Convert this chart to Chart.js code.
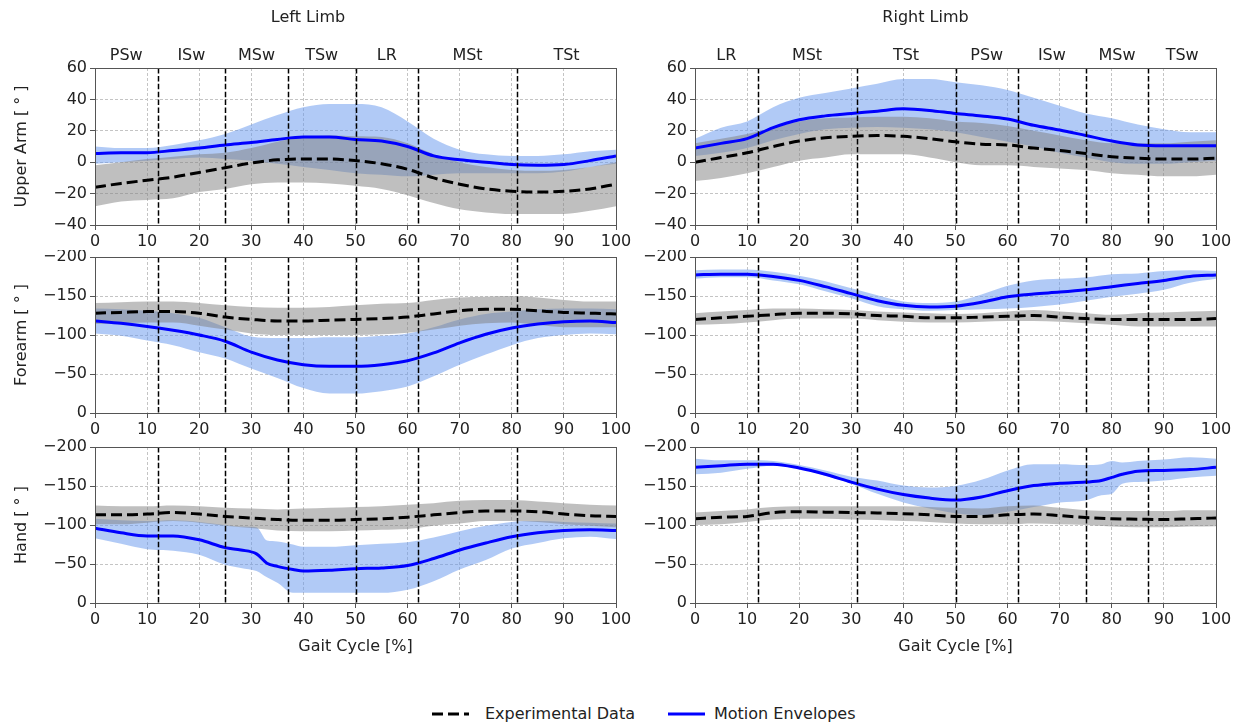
<!DOCTYPE html>
<html>
<head>
<meta charset="utf-8">
<script src="https://cdn.jsdelivr.net/npm/chart.js@4.4.0/dist/chart.umd.min.js"></script>
<style>
  body { margin: 0; background: #fff; width: 1238px; height: 723px; position: relative; overflow: hidden;
         font-family: "DejaVu Sans", sans-serif; color: #222; }
  .panel { position: absolute; }
  .leg { position: absolute; font-size: 16px; line-height: 20px; white-space: nowrap; }
</style>
</head>
<body>
<div class="panel" id="p0"><canvas id="c0"></canvas></div>
<div class="panel" id="p1"><canvas id="c1"></canvas></div>
<div class="panel" id="p2"><canvas id="c2"></canvas></div>
<div class="panel" id="p3"><canvas id="c3"></canvas></div>
<div class="panel" id="p4"><canvas id="c4"></canvas></div>
<div class="panel" id="p5"><canvas id="c5"></canvas></div>

<svg class="leg" style="left:432px;top:704px" width="40" height="20"><line x1="0" y1="10" x2="37" y2="10" stroke="#000" stroke-width="3" stroke-dasharray="11 5"/></svg>
<div class="leg" style="left:485px;top:704px">Experimental Data</div>
<svg class="leg" style="left:668px;top:704px" width="40" height="20"><line x1="0" y1="10" x2="37" y2="10" stroke="#0000ff" stroke-width="3"/></svg>
<div class="leg" style="left:714px;top:704px">Motion Envelopes</div>

<script>
// gait cycle samples (%)
const X = [0,5,10,15,20,25,30,35,40,45,50,55,60,65,70,75,80,85,90,95,100];

// phase boundaries and names
const leftBounds = [12,25,37,50,62,81];
const leftPhases = ['PSw','ISw','MSw','TSw','LR','MSt','TSt'];
const rightBounds = [12,31,50,62,75,87];
const rightPhases = ['LR','MSt','TSt','PSw','ISw','MSw','TSw'];

// Left upper arm
const luExpMean = [-16,-13.5,-11.5,-9.5,-6.5,-3.5,-0.5,1.5,2,2,1,-1,-4.5,-10,-14,-17,-18.5,-19,-18.5,-17,-14];
const luExpHi   = [-2,0,2,3.5,5,6,9,13,16,17,16.5,16,12,5,0,-3,-5,-5.5,-5,-3,0];
const luExpLo   = [-28,-25,-24,-23,-19,-17,-14,-13,-13,-13.5,-15,-17,-21,-26,-30,-32,-33,-33,-33,-31,-28];
const luEnvMean = [5.5,6,6,7.5,9,11,12.5,14.5,16,16,14.5,13.5,10,4,1.5,0,-1.5,-2,-1.5,1,4];
const luEnvHi   = [10,9,9,11,14,18,24,30,35,37,37,35,26,15,8,5,4,4,5,7,8];
const luEnvLo   = [-1,0,1,2,3,2,1,-1,-3,-5,-7,-8,-9,-8,-7,-7,-7,-7,-6,-3,-1];

// Right upper arm
const ruExpMean = [0,3,6,10,13.5,15.5,16.5,17,16.5,15,13,11.5,11,9,7.5,5.5,3.5,2.5,2,2,2.5];
const ruExpHi   = [12,15,18,22,26,28,28.5,29,29,28,26,25,23,20,17,14,12,12,12,13,14];
const ruExpLo   = [-12,-10,-7,-3,1,3,5,5,5,3,0,-2,-2,-3,-4,-5,-7,-8,-9,-9,-8];
const ruEnvMean = [9,12,15,22,27,29.5,31,32.5,34,33,31,29.5,27.5,23.5,20.5,17,13.5,11,10.5,10.5,10.5];
const ruEnvHi   = [15,22,26,35,41,44,47,50,53,53,51,49,46,41,36,31,28,24,21,19,19];
const ruEnvLo   = [4,6,9,14,18,21,22,22.5,22,21,19,16,13,10,6,3,0,-1,-1,0,1];

// Left forearm
const lfExpMean = [-128,-129,-130,-130,-128,-123,-120,-118,-118,-119,-120,-121,-123,-127,-131,-133,-133,-131,-129,-128,-127];
const lfExpHi   = [-141,-142,-143,-143,-141,-138,-136,-135,-135,-136,-138,-140,-141,-145,-148,-149,-150,-148,-145,-143,-143];
const lfExpLo   = [-114,-115,-116,-116,-112,-107,-102,-100,-100,-100,-100,-101,-103,-107,-112,-115,-116,-113,-110,-110,-110];
const lfEnvMean = [-118,-115,-111,-106,-100,-92,-78,-68,-62,-60,-60,-62,-67,-77,-90,-101,-109,-114,-117,-118,-116];
const lfEnvHi   = [-134,-133,-131,-128,-122,-110,-98,-96,-96,-97,-97,-99,-102,-110,-120,-127,-130,-133,-134,-134,-133];
const lfEnvLo   = [-102,-99,-93,-87,-78,-70,-57,-45,-32,-25,-25,-28,-34,-47,-62,-75,-87,-96,-100,-102,-101];

// Right forearm
const rfExpMean = [-120,-122,-124,-126,-128,-128,-127,-125,-124,-122,-122,-123,-124,-125,-123,-121,-120,-120,-120,-120,-121];
const rfExpHi   = [-128,-130,-132,-134,-134,-133,-132,-130,-129,-128,-127,-128,-130,-132,-130,-128,-126,-128,-129,-130,-131];
const rfExpLo   = [-113,-114,-116,-119,-121,-121,-121,-119,-117,-116,-116,-117,-118,-118,-117,-115,-113,-111,-111,-111,-111];
const rfEnvMean = [-177,-178,-178,-175,-170,-162,-153,-144,-138,-136,-137,-142,-149,-152.5,-155,-158,-162,-166,-170,-175,-177];
const rfEnvHi   = [-183,-184,-184,-181,-176,-169,-160,-151,-143,-141,-143,-152,-163,-170,-172,-174,-178,-179,-182,-183,-182];
const rfEnvLo   = [-172,-174,-174,-170,-165,-156,-147,-137,-133,-131,-132,-133,-134,-136,-139,-144,-149,-153,-158,-167,-172];

// Left hand
const lhExpMean = [-113,-113,-114,-116,-114,-111,-109,-107,-106,-106,-107,-108,-110,-113,-116,-118,-118,-117,-114,-112,-111];
const lhExpHi   = [-125,-124,-124,-125,-124,-122,-121,-120,-121,-122,-123,-124,-126,-128,-131,-132,-132,-130,-128,-126,-125];
const lhExpLo   = [-101,-101,-103,-105,-103,-99,-96,-93,-92,-92,-93,-94,-95,-99,-102,-105,-105,-104,-101,-99,-97];
const lhEnvX    = [0,5,10,15,20,25,28,31,33,35,38,40,45,50,55,60,65,70,75,80,85,90,95,100];
const lhEnvMean = [-96,-90,-86,-86,-81,-71,-68,-63,-51,-47,-43,-41,-42,-44,-45,-48,-57,-68,-77,-85,-90,-93,-94,-93];
const lhEnvHi   = [-108,-106,-105,-106,-104,-100,-98,-97,-80,-79,-75,-72,-72,-74,-76,-78,-84,-92,-99,-104,-105,-104,-103,-102];
const lhEnvLo   = [-83,-76,-69,-67,-62,-49,-45,-41,-33,-26,-13,-13,-13,-13,-13,-17,-28,-43,-55,-70,-77,-83,-85,-82];

// Right hand
const rhExpMean = [-108,-110,-111,-116,-117,-116.5,-116,-115.5,-114.5,-113,-111,-111,-113,-114,-112,-109.5,-108,-107.5,-107,-108,-109];
const rhExpHi   = [-116,-118,-120,-123,-124,-124,-124,-124,-124,-123,-122,-121,-124,-125,-122,-119,-118,-118,-118,-119,-119];
const rhExpLo   = [-100,-101,-104,-107,-108,-108,-107,-106.5,-105,-104,-102,-101,-101,-102,-101,-100,-98,-97,-97,-98,-98.5];
const rhEnvX    = [0,5,10,15,20,25,30,35,40,45,50,55,60,65,70,75,78,80,82,85,90,95,100];
const rhEnvMean = [-174,-176,-178,-178,-173,-165,-155,-146,-139,-134.5,-132,-136,-144,-150.5,-153.5,-155,-157,-161,-165,-169,-170,-171,-174];
const rhEnvHi   = [-185,-183,-183,-182,-177,-170,-162,-157,-150.5,-148,-150,-158,-170,-178,-178,-177,-178,-182,-180,-182,-184,-187,-185];
const rhEnvLo   = [-165,-167,-172,-176,-172,-163,-153,-140,-129,-121,-115,-112.5,-117,-123,-129,-131.5,-138,-140,-153,-155,-157,-161,-163];

const upperTicks = {min: -40, max: 60, step: 20};
const lowerTicks = {min: -200, max: 0, step: 50};

const TXT = '#222';
const FONT = {family: 'DejaVu Sans', size: 16};

// layout of the 2 x 3 grid
const cols = [
  {left: 0, width: 635, axisW: 95, padR: 19},
  {left: 635, width: 603, axisW: 60, padR: 22}
];
const rows = [
  {top: 0, height: 250, padT: 0, axisH: 25},
  {top: 250, height: 185, padT: 7, axisH: 22},
  {top: 435, height: 235, padT: 12, axisH: 67}
];

const panels = [
  {row: 0, col: 0, title: 'Left Limb', ylabel: 'Upper Arm [ \u00b0 ]', ticks: upperTicks, bounds: leftBounds, phases: leftPhases,
   expMean: luExpMean, expHi: luExpHi, expLo: luExpLo, envX: X, envMean: luEnvMean, envHi: luEnvHi, envLo: luEnvLo},
  {row: 0, col: 1, title: 'Right Limb', ticks: upperTicks, bounds: rightBounds, phases: rightPhases,
   expMean: ruExpMean, expHi: ruExpHi, expLo: ruExpLo, envX: X, envMean: ruEnvMean, envHi: ruEnvHi, envLo: ruEnvLo},
  {row: 1, col: 0, ylabel: 'Forearm [ \u00b0 ]', ticks: lowerTicks, bounds: leftBounds,
   expMean: lfExpMean, expHi: lfExpHi, expLo: lfExpLo, envX: X, envMean: lfEnvMean, envHi: lfEnvHi, envLo: lfEnvLo},
  {row: 1, col: 1, ticks: lowerTicks, bounds: rightBounds,
   expMean: rfExpMean, expHi: rfExpHi, expLo: rfExpLo, envX: X, envMean: rfEnvMean, envHi: rfEnvHi, envLo: rfEnvLo},
  {row: 2, col: 0, ylabel: 'Hand [ \u00b0 ]', xlabel: 'Gait Cycle [%]', ticks: lowerTicks, bounds: leftBounds,
   expMean: lhExpMean, expHi: lhExpHi, expLo: lhExpLo, envX: lhEnvX, envMean: lhEnvMean, envHi: lhEnvHi, envLo: lhEnvLo},
  {row: 2, col: 1, xlabel: 'Gait Cycle [%]', ticks: lowerTicks, bounds: rightBounds,
   expMean: rhExpMean, expHi: rhExpHi, expLo: rhExpLo, envX: rhEnvX, envMean: rhEnvMean, envHi: rhEnvHi, envLo: rhEnvLo}
];

function pts(xs, ys) { return xs.map((x, i) => ({x: x, y: ys[i]})); }

// phase divider lines, phase names and the box around each plot
const phasePlugin = {
  id: 'phases',
  afterDatasetsDraw(chart, args, opts) {
    const {ctx, chartArea: a, scales: {x}} = chart;
    ctx.save();
    ctx.strokeStyle = '#000';
    ctx.lineWidth = 1.5;
    ctx.setLineDash([5.5, 2.4]);
    opts.bounds.forEach(b => {
      const px = Math.round(x.getPixelForValue(b)) + 0.5;
      ctx.beginPath();
      ctx.moveTo(px, a.top);
      ctx.lineTo(px, a.bottom);
      ctx.stroke();
    });
    ctx.restore();
  },
  afterDraw(chart, args, opts) {
    const {ctx, chartArea: a, scales: {x}} = chart;
    ctx.save();
    ctx.strokeStyle = '#555';
    ctx.lineWidth = 1;
    ctx.strokeRect(Math.round(a.left) + 0.5, Math.round(a.top) + 0.5, Math.round(a.width), Math.round(a.height));
    if (opts.phases) {
      const edges = [0].concat(opts.bounds, [100]);
      ctx.fillStyle = TXT;
      ctx.font = '16px "DejaVu Sans"';
      ctx.textAlign = 'center';
      ctx.textBaseline = 'middle';
      opts.phases.forEach((name, i) => {
        const mid = (edges[i] + edges[i + 1]) / 2;
        ctx.fillText(name, x.getPixelForValue(mid), a.top - 12);
      });
    }
    ctx.restore();
  }
};

panels.forEach((p, k) => {
  const c = cols[p.col], r = rows[p.row];
  const box = document.getElementById('p' + k);
  box.style.left = c.left + 'px';
  box.style.top = r.top + 'px';
  box.style.width = c.width + 'px';
  box.style.height = r.height + 'px';

  const line = {pointRadius: 0, cubicInterpolationMode: 'monotone'};
  const datasets = [
    Object.assign({label: 'Experimental Data', data: pts(X, p.expMean), borderColor: '#000', borderWidth: 3,
      borderDash: [11, 5], fill: false}, line),
    Object.assign({label: 'Motion Envelopes', data: pts(p.envX, p.envMean), borderColor: '#0000ff', borderWidth: 3,
      fill: false}, line),
    Object.assign({data: pts(X, p.expHi), borderColor: 'transparent', borderWidth: 1,
      backgroundColor: 'rgba(128,128,128,0.5)', fill: 3}, line),
    Object.assign({data: pts(X, p.expLo), borderColor: 'transparent', borderWidth: 1, fill: false}, line),
    Object.assign({data: pts(p.envX, p.envHi), borderColor: 'transparent', borderWidth: 1,
      backgroundColor: 'rgba(100,149,237,0.5)', fill: 5}, line),
    Object.assign({data: pts(p.envX, p.envLo), borderColor: 'transparent', borderWidth: 1, fill: false}, line)
  ];

  new Chart(document.getElementById('c' + k), {
    type: 'line',
    data: {datasets: datasets},
    plugins: [phasePlugin],
    options: {
      responsive: true,
      maintainAspectRatio: false,
      animation: false,
      layout: {padding: {top: r.padT, right: c.padR, left: 0, bottom: 0}},
      plugins: {
        legend: {display: false},
        tooltip: {enabled: false},
        title: {display: !!p.title, text: p.title || '', color: TXT, font: {family: 'DejaVu Sans', size: 16, weight: 'normal'},
                padding: {top: 8.4, bottom: 40.4}},
        phases: {bounds: p.bounds, phases: p.phases || null}
      },
      scales: {
        x: {
          type: 'linear', min: 0, max: 100,
          ticks: {stepSize: 10, color: TXT, font: FONT, padding: 2, maxRotation: 0},
          grid: {color: '#c4c4c4', lineWidth: 1, tickLength: 5, tickColor: '#555'},
          border: {display: false, dash: [3, 2]},
          title: {display: !!p.xlabel, text: p.xlabel || '', color: TXT, font: FONT, padding: {top: 0, bottom: 14}},
          afterFit(s) { s.height = r.axisH; s.paddingLeft = 0; s.paddingRight = 0; }
        },
        y: {
          min: p.ticks.min, max: p.ticks.max, reverse: p.ticks.min === -200,
          ticks: {stepSize: p.ticks.step, color: TXT, font: FONT, padding: 3,
                  callback: v => String(v).replace('-', '\u2212')},
          grid: {color: '#c4c4c4', lineWidth: 1, tickLength: 5, tickColor: '#555'},
          border: {display: false, dash: [3, 2]},
          title: {display: !!p.ylabel, text: p.ylabel || '', color: TXT, font: FONT, padding: {top: 12, bottom: 0}},
          afterFit(s) { s.width = c.axisW; s.paddingTop = 0; s.paddingBottom = 0; }
        }
      }
    }
  });
});
</script>
</body>
</html>
